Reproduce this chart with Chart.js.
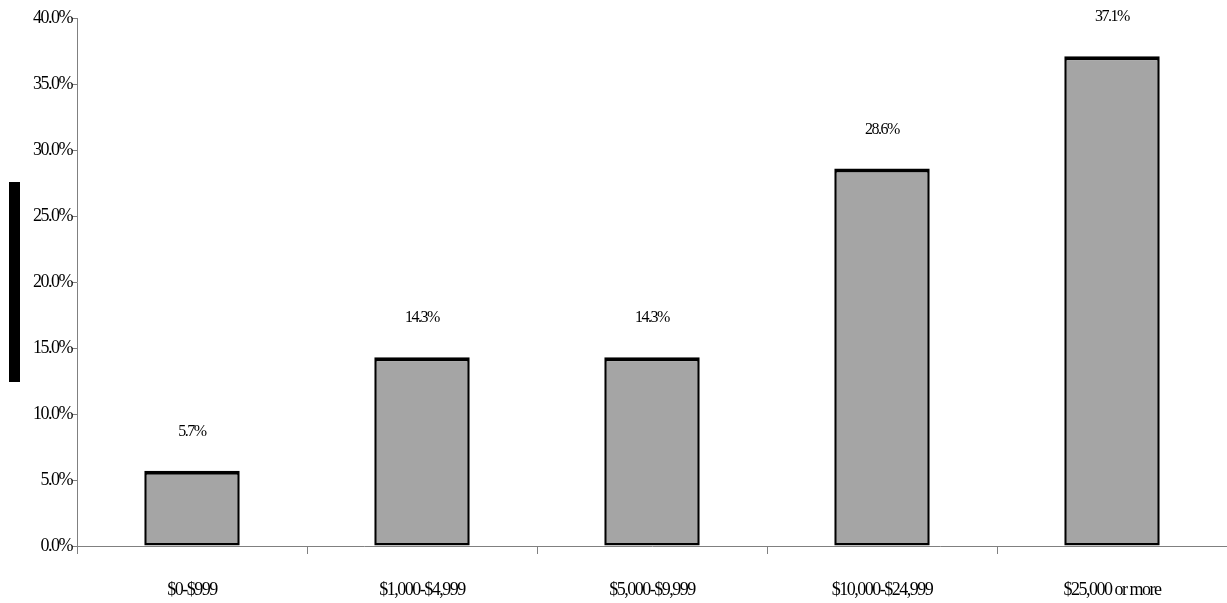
<!DOCTYPE html>
<html>
<head>
<meta charset="utf-8">
<script src="https://cdn.jsdelivr.net/npm/chart.js@4/dist/chart.umd.min.js"></script>
<style>
  html, body { margin: 0; padding: 0; background: #ffffff; }
  #wrap { width: 1227px; height: 603px; position: relative; }
</style>
</head>
<body>
<div id="wrap"><canvas id="c"></canvas></div>
<script>
// Share of respondents by amount band
const categories = ['$0-$999', '$1,000-$4,999', '$5,000-$9,999', '$10,000-$24,999', '$25,000 or more'];
const shares = [5.7, 14.3, 14.3, 28.6, 37.1];
const yTicks = [0, 5, 10, 15, 20, 25, 30, 35, 40];

const FONT = "'Liberation Serif', 'Times New Roman', serif";
const pct = v => Number(v).toFixed(1) + '%';

// Tight, narrow lettering for every text on the canvas
const tightText = {
  id: 'tightText',
  beforeUpdate(chart) { chart.ctx.letterSpacing = '-1.5px'; },
  beforeDraw(chart) { chart.ctx.letterSpacing = '-1.5px'; }
};

// Value above each bar
const valueLabels = {
  id: 'valueLabels',
  afterDatasetsDraw(chart) {
    const ctx = chart.ctx;
    const meta = chart.getDatasetMeta(0);
    ctx.save();
    ctx.letterSpacing = '-1.5px';
    ctx.font = '16px ' + FONT;
    ctx.fillStyle = '#000';
    ctx.textAlign = 'center';
    ctx.textBaseline = 'middle';
    meta.data.forEach((bar, i) => {
      ctx.fillText(pct(shares[i]), bar.x, bar.y - 39);
    });
    ctx.restore();
  }
};

// Solid block standing in for the vertical axis caption
const axisCaption = {
  id: 'axisCaption',
  afterDraw(chart) {
    const y = chart.scales.y;
    const mid = (y.top + y.bottom) / 2;
    const ctx = chart.ctx;
    ctx.save();
    ctx.fillStyle = '#000';
    ctx.fillRect(9, mid - 100, 11, 200);
    ctx.restore();
  }
};

new Chart(document.getElementById('c'), {
  type: 'bar',
  data: {
    labels: categories,
    datasets: [{
      data: shares,
      backgroundColor: '#a5a5a5',
      borderColor: '#000000',
      borderWidth: { top: 4, left: 2.5, right: 2.5, bottom: 2.5 },
      borderSkipped: false,
      barPercentage: 0.415,
      categoryPercentage: 1.0
    }]
  },
  options: {
    responsive: true,
    maintainAspectRatio: false,
    animation: false,
    layout: { padding: { top: 18, right: 0, bottom: 0, left: 0 } },
    plugins: {
      legend: { display: false },
      tooltip: { enabled: false },
      title: { display: false }
    },
    scales: {
      x: {
        offset: true,
        grid: {
          offset: true,
          drawOnChartArea: false,
          drawTicks: true,
          tickLength: 8,
          color: '#808080',
          lineWidth: 1
        },
        border: { display: true, color: '#808080', width: 1 },
        ticks: {
          color: '#000',
          font: { family: FONT, size: 18 },
          padding: 25,
          maxRotation: 0,
          autoSkip: false
        },
        afterFit(scale) { scale.height = 57; }
      },
      y: {
        min: 0,
        max: 40,
        afterBuildTicks(scale) { scale.ticks = yTicks.map(v => ({ value: v })); },
        grid: {
          drawOnChartArea: false,
          drawTicks: true,
          tickLength: 5,
          color: '#808080',
          lineWidth: 1
        },
        border: { display: true, color: '#808080', width: 1 },
        ticks: {
          color: '#000',
          font: { family: FONT, size: 18 },
          padding: 0,
          callback: v => pct(v)
        },
        afterFit(scale) { scale.width = 77; }
      }
    }
  },
  plugins: [tightText, valueLabels, axisCaption]
});
</script>
</body>
</html>
